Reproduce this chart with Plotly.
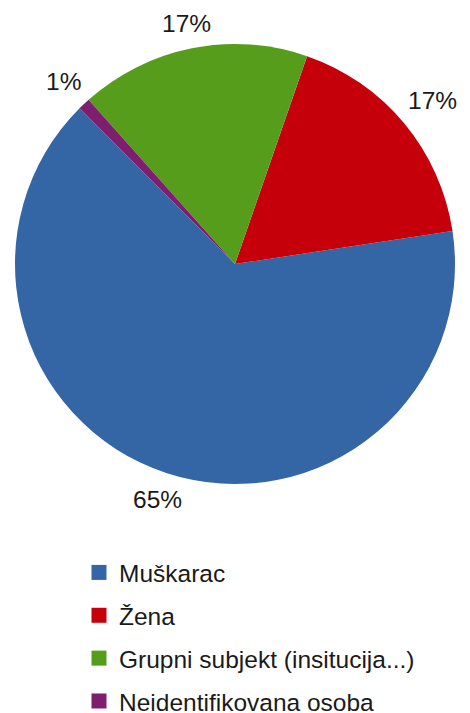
import math
import plotly.graph_objects as go

categories = ["Muškarac", "Žena", "Grupni subjekt (insitucija...)", "Neidentifikovana osoba"]
values = [64.9, 17.3, 16.9, 0.9]
colors = ["#3465a4", "#c5000b", "#579d1c", "#7e1e6e"]

W, H = 470, 713
cx, cy, r = 235, 264, 220
ROT = 81.4  # start angle (deg, clockwise from 12 o'clock)
FONT = "Liberation Sans, Arial, sans-serif"
FS = 24.5
GAP = 11

fig = go.Figure()
fig.add_trace(go.Pie(
    labels=categories, values=values, sort=False,
    direction="counterclockwise", rotation=ROT,
    marker=dict(colors=colors, line=dict(width=0)),
    textinfo="none",
    showlegend=False, hoverinfo="label+percent",
    domain=dict(x=[(cx - r) / W, (cx + r) / W], y=[1 - (cy + r) / H, 1 - (cy - r) / H]),
))

# percentage labels placed outside each slice at its mid-angle
total = sum(values)
char_w = {"%": 0.889}
annotations = []
# plotly ccw: first slice spans [ROT, ROT+a0] clockwise, following ones go ccw from ROT
ang = ROT
for i, v in enumerate(values):
    span = v / total * 360
    if i == 0:
        a0, a1 = ROT, ROT + span
        ang = ROT
    else:
        a1, a0 = ang, ang - span
        ang = a0
    mid = math.radians((a0 + a1) / 2)
    txt = f"{round(v / total * 100)}%"
    tw = sum(char_w.get(c, 0.556) for c in txt) * FS
    th = 20
    ext = abs(math.sin(mid)) * tw / 2 + abs(math.cos(mid)) * th / 2
    d = r + GAP + ext
    px = cx + d * math.sin(mid)
    py = cy - d * math.cos(mid)
    annotations.append(dict(
        x=px / W, y=1 - py / H, xref="paper", yref="paper",
        text=txt, showarrow=False, xanchor="center", yanchor="middle",
        font=dict(family=FONT, size=FS, color="#1a1a1a"),
    ))

for i, (name, col) in enumerate(zip(categories, colors)):
    fig.add_trace(go.Scatter(
        x=[None], y=[None], mode="markers", name=name,
        marker=dict(symbol="square", size=15, color=col),
        legendgroup=f"g{i}", showlegend=True, hoverinfo="skip",
    ))

fig.update_layout(
    width=W, height=H,
    margin=dict(l=0, r=0, t=0, b=0, autoexpand=False),
    paper_bgcolor="white", plot_bgcolor="white",
    font=dict(family=FONT, size=FS, color="#1a1a1a"),
    xaxis=dict(visible=False, domain=[0, 0.01]),
    yaxis=dict(visible=False, domain=[0, 0.01]),
    annotations=annotations,
    showlegend=True,
    legend=dict(
        x=79 / W, xanchor="left", y=1 - 550 / H, yanchor="top",
        orientation="v", tracegroupgap=8, itemclick=False,
        font=dict(family=FONT, size=FS, color="#1a1a1a"),
        bgcolor="rgba(0,0,0,0)",
    ),
)

fig.write_html(
    "out.html",
    config={"displayModeBar": False},
    post_script="document.body.style.margin='0';document.body.style.padding='0';",
)
